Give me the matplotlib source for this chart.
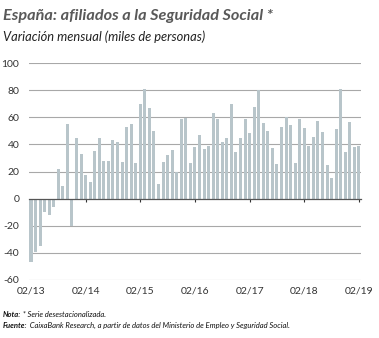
import numpy as np
import matplotlib
matplotlib.use('Agg')
import matplotlib.pyplot as plt

# monthly change, 02/2013 - 02/2019 (thousands of people)
values = [
    -47, -39, -35, -10, -12, -6, 22, 9, 55, -20, 45,           # 2013 feb-dec
    33, 17.5, 12.5, 35, 45, 28, 28, 43, 42, 27, 53, 55,        # 2014
    26.5, 69.5, 81, 67, 50, 11, 27, 32, 36, 20, 58.5, 59.5,    # 2015
    26.5, 38, 47, 36.5, 39, 63, 58.5, 42, 45, 69.5, 34.5, 44.5, # 2016
    59, 48.5, 67.5, 80, 55.5, 50, 37, 25.5, 52.5, 60, 54.5, 26, # 2017
    58.5, 52, 39, 45.5, 57, 49, 24.5, 15, 51.5, 81, 34.5, 56.5, # 2018
    38, 39,                                                    # 2019 jan-feb
]
tick_pos = [0, 12, 24, 36, 48, 60, 72]
tick_labels = ['02/13', '02/14', '02/15', '02/16', '02/17', '02/18', '02/19']
yticks = [-60, -40, -20, 0, 20, 40, 60, 80, 100]

plt.rcParams['font.family'] = ['Lato', 'DejaVu Sans']

fig = plt.figure(figsize=(3.79, 3.38), dpi=100)
ax = fig.add_axes([0.0765, 0.1716, 0.876, 0.642])

x = np.arange(len(values))
ax.bar(x, values, width=0.66, color='#b8c5ca', zorder=3)

ax.set_ylim(-60, 100)
ax.set_xlim(-0.44, 72.45)
ax.set_yticks(yticks)
ax.set_yticklabels([str(v) for v in yticks], fontsize=7.5, color='#333333')
ax.tick_params(axis='y', length=0, pad=7)
for v in yticks:
    if v != 0:
        ax.axhline(v, color='#a8a8a8', lw=0.8, zorder=1)

for s in ['top', 'right', 'left']:
    ax.spines[s].set_visible(False)
# zero line with small year ticks, labels kept at the bottom
ax.spines['bottom'].set_position(('data', 0))
ax.spines['bottom'].set_color('#555555')
ax.spines['bottom'].set_linewidth(0.9)
ax.spines['bottom'].set_zorder(4)
ax.set_xticks(tick_pos)
ax.tick_params(axis='x', length=2, width=0.8, color='#333333', labelbottom=False)

sec = ax.secondary_xaxis('bottom')
sec.set_xticks(tick_pos)
sec.set_xticklabels(tick_labels, fontsize=7.5, color='#333333')
sec.tick_params(length=0, pad=5)
sec.spines['bottom'].set_visible(False)

fig.text(0.008, 0.953, 'España: afiliados a la Seguridad Social *', fontsize=11.7,
         fontweight='bold', fontstyle='italic', color='#595959', va='center')
fig.text(0.008, 0.892, 'Variación mensual (miles de personas)', fontsize=9.3,
         fontstyle='italic', color='#222222', va='center')

# footer: bold label followed by normal text
def footer(y, label, rest):
    t = fig.text(0.008, y, label, fontsize=5.5, fontweight='bold',
                 fontstyle='italic', color='#111111', va='center')
    ax.annotate(' ' + rest, xy=(1, 0.5), xycoords=t, fontsize=5.5,
                fontstyle='italic', color='#111111', va='center', ha='left',
                annotation_clip=False)

footer(0.071, 'Nota:', '* Serie desestacionalizada.')
footer(0.036, 'Fuente:', 'CaixaBank Research, a partir de datos del Ministerio de Empleo y Seguridad Social.')

fig.savefig('out.png', dpi=100)
